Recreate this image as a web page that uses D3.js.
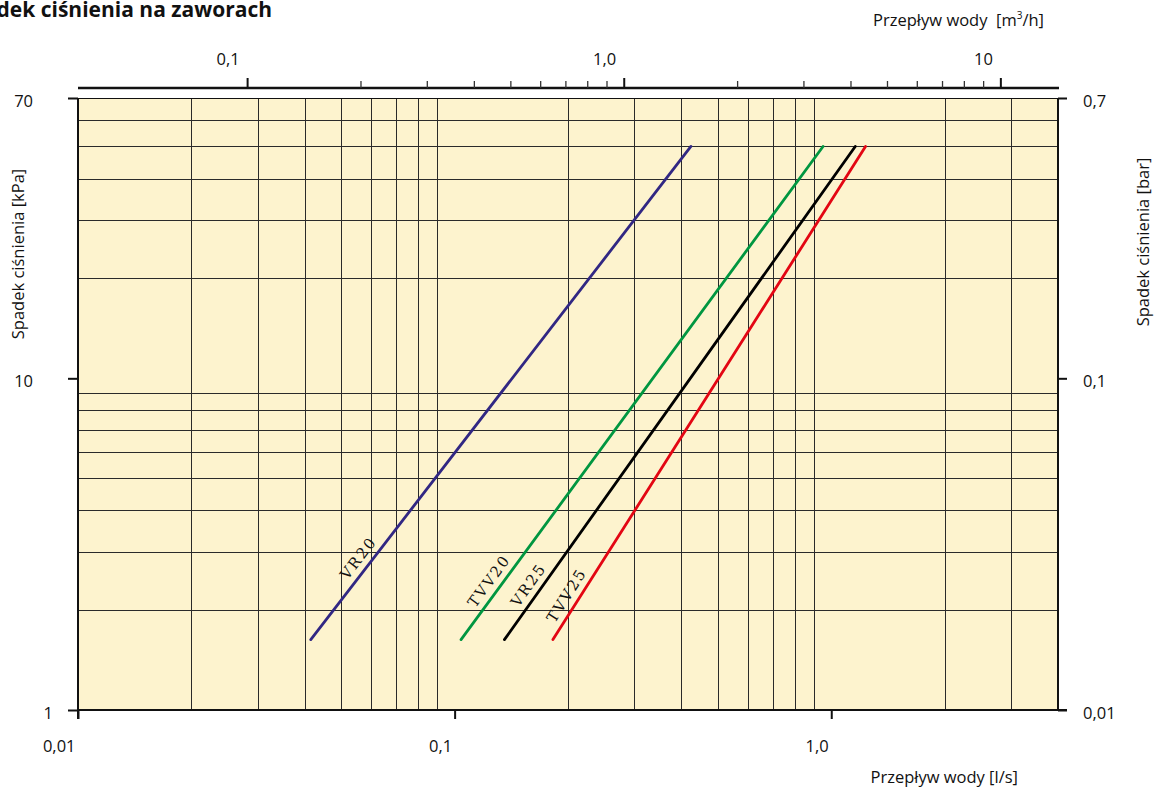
<!DOCTYPE html>
<html>
<head>
<meta charset="utf-8">
<script src="https://cdn.jsdelivr.net/npm/d3@7"></script>
<style>
  body { margin: 0; background: #fff; }
  text { font-family: "Open Sans", sans-serif; fill: #111; }
</style>
</head>
<body>
<div id="chart"></div>
<script>
// Valve curves: flow [l/s] vs pressure drop [kPa]
const series = ["VR20", "TVV20", "VR25", "TVV25"];
const flowStart = [0.0415, 0.104, 0.1356, 0.1824];
const flowEnd = [0.424, 0.951, 1.158, 1.233];
const dropStart = [1.63, 1.63, 1.63, 1.63];
const dropEnd = [50, 50, 50, 50];
const labelDrop = [2.73, 2.33, 2.27, 2.12];

// Ticks and grid
const bottomTicks = [0.01, 0.1, 1];
const bottomTickLabels = ["0,01", "0,1", "1,0"];
const topTicks = [0.1, 1, 10];
const topTickLabels = ["0,1", "1,0", "10"];
const topMinorTicks = [0.2, 0.3, 0.4, 0.5, 0.6, 0.7, 0.8, 0.9, 2, 3, 4, 5, 6, 7, 8, 9];
const leftTicks = [1, 10, 70];
const leftTickLabels = ["1", "10", "70"];
const rightTicks = [0.01, 0.1, 0.7];
const rightTickLabels = ["0,01", "0,1", "0,7"];
const xGrid = [0.02, 0.03, 0.04, 0.05, 0.06, 0.07, 0.08, 0.09,
  0.2, 0.3, 0.4, 0.5, 0.6, 0.7, 0.8, 0.9, 2, 3];
const yGrid = [2, 3, 4, 5, 6, 7, 8, 9, 20, 30, 40, 50, 60];

// Display settings
const colours = { VR20: "#312783", TVV20: "#009640", VR25: "#000000", TVV25: "#e30613" };
const width = 1156;
const height = 787;
const plot = { left: 78, right: 1058, top: 98, bottom: 710 };
const labelSize = "16.5px";

const x = d3.scaleLog().domain([0.01, 4]).range([plot.left, plot.right]);
const y = d3.scaleLog().domain([1, 70]).range([plot.bottom, plot.top]);
// top axis is the same flow in m3/h (sits ~2px right in the original)
const xTop = d3.scaleLog().domain([0.01 * 3.6, 4 * 3.6]).range([plot.left + 2, plot.right + 2]);
const yRight = d3.scaleLog().domain([0.01, 0.7]).range([plot.bottom, plot.top]);

const svg = d3.select("#chart").append("svg")
  .attr("width", width)
  .attr("height", height);

// Background
svg.append("rect")
  .attr("x", plot.left).attr("y", plot.top)
  .attr("width", plot.right - plot.left)
  .attr("height", plot.bottom - plot.top)
  .attr("fill", "#fdf3ce");

// Grid
const grid = svg.append("g").attr("stroke", "#2a2a2a").attr("stroke-width", 1);
grid.selectAll(".vgrid").data(xGrid).join("line")
  .attr("class", "vgrid")
  .attr("x1", (d) => Math.round(x(d)) + 0.5)
  .attr("x2", (d) => Math.round(x(d)) + 0.5)
  .attr("y1", plot.top).attr("y2", plot.bottom);
grid.selectAll(".hgrid").data(yGrid).join("line")
  .attr("class", "hgrid")
  .attr("y1", (d) => Math.round(y(d)) + 0.5)
  .attr("y2", (d) => Math.round(y(d)) + 0.5)
  .attr("x1", plot.left).attr("x2", plot.right);

// Curves
const lines = series.map((name, i) => ({
  name,
  data: [
    { flow: flowStart[i], drop: dropStart[i] },
    { flow: flowEnd[i], drop: dropEnd[i] },
  ],
  labelDrop: labelDrop[i],
}));

const line = d3.line().x((d) => x(d.flow)).y((d) => y(d.drop));

svg.append("g").selectAll("path").data(lines).join("path")
  .attr("d", (d) => line(d.data))
  .attr("fill", "none")
  .attr("stroke", (d) => colours[d.name])
  .attr("stroke-width", 2.8)
  .attr("stroke-linecap", "round");

// Curve labels, rotated along each line
svg.append("g").selectAll("text").data(lines).join("text")
  .attr("transform", (d) => {
    const [a, b] = d.data;
    const t = (Math.log(d.labelDrop) - Math.log(a.drop)) / (Math.log(b.drop) - Math.log(a.drop));
    const flow = Math.exp(Math.log(a.flow) + t * (Math.log(b.flow) - Math.log(a.flow)));
    const angle = Math.atan2(y(b.drop) - y(a.drop), x(b.flow) - x(a.flow)) * 180 / Math.PI;
    return `translate(${x(flow)},${y(d.labelDrop)}) rotate(${angle})`;
  })
  .attr("y", -7)
  .attr("text-anchor", "middle")
  .style("font-family", "'DejaVu Serif', serif")
  .style("font-size", "15px")
  .style("letter-spacing", "2px")
  .text((d) => d.name);

// Frame
const frame = svg.append("g").attr("stroke", "#111");
frame.append("line")
  .attr("x1", plot.left).attr("x2", plot.right)
  .attr("y1", plot.top + 0.5).attr("y2", plot.top + 0.5)
  .attr("stroke-width", 1.2);
frame.append("line")
  .attr("x1", plot.left).attr("x2", plot.left)
  .attr("y1", plot.top).attr("y2", plot.bottom + 9)
  .attr("stroke-width", 2);
frame.append("line")
  .attr("x1", plot.right).attr("x2", plot.right)
  .attr("y1", plot.top).attr("y2", plot.bottom)
  .attr("stroke-width", 2);
frame.append("line")
  .attr("x1", plot.left).attr("x2", plot.right + 9)
  .attr("y1", plot.bottom).attr("y2", plot.bottom)
  .attr("stroke-width", 2);
// top axis line above the plot
frame.append("line")
  .attr("x1", plot.left).attr("x2", plot.right + 1)
  .attr("y1", 88).attr("y2", 88)
  .attr("stroke-width", 2.5);

// Axis styling helper
const styleAxis = (g) => {
  g.select(".domain").remove();
  g.selectAll(".tick line").attr("stroke", "#111").attr("stroke-width", 2);
  g.selectAll(".tick text")
    .style("font-family", "'Open Sans', sans-serif")
    .style("font-size", labelSize)
    .attr("fill", "#111");
};

// Bottom axis (l/s)
svg.append("g")
  .attr("transform", `translate(0,${plot.bottom})`)
  .call(d3.axisBottom(x).tickValues(bottomTicks).tickSize(9).tickSizeOuter(0)
    .tickFormat((d, i) => bottomTickLabels[i]))
  .call(styleAxis)
  .call((g) => g.selectAll(".tick text")
    .attr("text-anchor", "end").attr("x", -3).attr("y", 42).attr("dy", 0));

// Top axis (m3/h)
svg.append("g")
  .attr("transform", "translate(0,88)")
  .call(d3.axisTop(xTop).tickValues(topMinorTicks).tickSize(7).tickSizeOuter(0).tickFormat(""))
  .call(styleAxis)
  .call((g) => g.selectAll(".tick line").attr("stroke-width", 1.3).attr("stroke", "#333"));
svg.append("g")
  .attr("transform", "translate(0,88)")
  .call(d3.axisTop(xTop).tickValues(topTicks).tickSize(10).tickSizeOuter(0)
    .tickFormat((d, i) => topTickLabels[i]))
  .call(styleAxis)
  .call((g) => g.selectAll(".tick text")
    .attr("text-anchor", "end").attr("x", -8).attr("y", -23).attr("dy", 0));

// Left axis (kPa)
svg.append("g")
  .attr("transform", `translate(${plot.left},0)`)
  .call(d3.axisLeft(y).tickValues(leftTicks).tickSize(10).tickSizeOuter(0)
    .tickFormat((d, i) => leftTickLabels[i]))
  .call(styleAxis)
  .call((g) => g.selectAll(".tick text")
    .attr("text-anchor", "end")
    .attr("x", (d) => (d < 10 ? -25 : -45))
    .attr("dy", "0.5em"));

// Right axis (bar)
svg.append("g")
  .attr("transform", `translate(${plot.right},0)`)
  .call(d3.axisRight(yRight).tickValues(rightTicks).tickSize(9).tickSizeOuter(0)
    .tickFormat((d, i) => rightTickLabels[i]))
  .call(styleAxis)
  .call((g) => g.selectAll(".tick text")
    .attr("text-anchor", "start").attr("x", 25).attr("dy", "0.5em"));

// Titles
svg.append("text")
  .attr("x", 272).attr("y", 17)
  .attr("text-anchor", "end")
  .style("font-size", "21px")
  .style("font-weight", "bold")
  .text("Spadek ciśnienia na zaworach");

svg.append("text")
  .attr("x", 1044).attr("y", 26)
  .attr("text-anchor", "end")
  .style("font-size", labelSize)
  .style("white-space", "pre")
  .html("Przepływ wody  [m<tspan baseline-shift='super' font-size='10px'>3</tspan>/h]");

svg.append("text")
  .attr("x", 1018).attr("y", 783)
  .attr("text-anchor", "end")
  .style("font-size", labelSize)
  .text("Przepływ wody [l/s]");

svg.append("text")
  .attr("transform", "translate(24,254) rotate(-90)")
  .attr("text-anchor", "middle")
  .style("font-size", labelSize)
  .text("Spadek ciśnienia [kPa]");

svg.append("text")
  .attr("transform", "translate(1149,242) rotate(-90)")
  .attr("text-anchor", "middle")
  .style("font-size", labelSize)
  .text("Spadek ciśnienia [bar]");
</script>
</body>
</html>
